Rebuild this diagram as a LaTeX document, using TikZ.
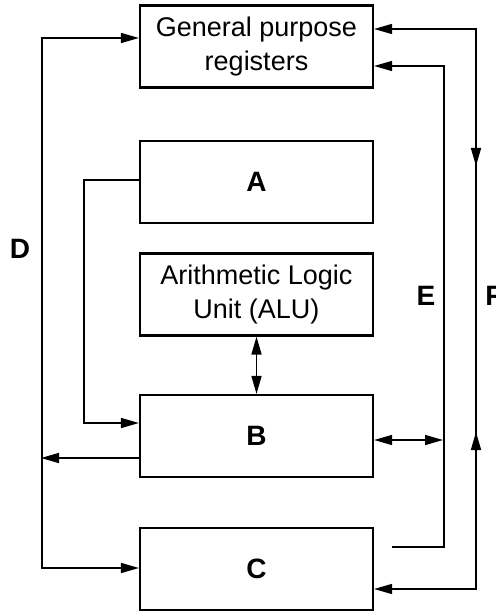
\documentclass[tikz,border=0pt]{standalone}
\usepackage{fontspec}
\setmainfont{Liberation Sans}
\usetikzlibrary{arrows.meta}
\tikzset{
    unit/.style={draw,line width=2.2pt,minimum width=233pt,minimum height=82pt,align=center,
        inner sep=0pt,font=\fontsize{27}{34}\selectfont},
    tag/.style={font=\fontsize{28}{30}\selectfont\bfseries},
    wire/.style={line width=1.6pt,-{Triangle[length=18pt,width=10pt]}},
    wires/.style={line width=1.6pt,{Triangle[length=18pt,width=10pt]}-{Triangle[length=18pt,width=10pt]}},
}
\begin{document}
\begin{tikzpicture}[x=1pt,y=-1pt]
    \useasboundingbox (0,0) rectangle (495,612);
    \node[unit] (gpr) at (256.5,46.5) {General purpose\\registers};
    \node[unit] (a) at (256.5,182) {\bfseries\fontsize{28}{30}\selectfont A};
    \node[unit] (alu) at (256.5,294.5) {Arithmetic Logic\\Unit (ALU)};
    \node[unit] (b) at (256.5,436) {\bfseries\fontsize{28}{30}\selectfont B};
    \node[unit] (c) at (256.5,569) {\bfseries\fontsize{28}{30}\selectfont C};
    \coordinate (d1) at (42,38);
    \coordinate (d2) at (42,568);
    \coordinate (d3) at (41,458);
    \coordinate (a1) at (84,180);
    \coordinate (a2) at (84,423);
    \coordinate (e1) at (444,66);
    \coordinate (e2) at (444,547);
    \coordinate (e3) at (392,547);
    \coordinate (e4) at (443,440);
    \coordinate (f1) at (476,29);
    \coordinate (f2) at (476,589);
    \coordinate (f3) at (476,166);
    \coordinate (f4) at (476,432);
    \draw[wires] (gpr.west |- d1) -- (d1) -- (d2) -- (c.west |- d2);
    \draw[wire] (b.west |- d3) -- (d3);
    \draw[wire] (a.west |- a1) -- (a1) -- (a2) -- (b.west |- a2);
    \draw[wires] (alu.south) -- (b.north);
    \draw[wires] (b.east |- e4) -- (e4);
    \draw[wire] (e3) -- (e2) -- (e1) -- (gpr.east |- e1);
    \draw[wires] (gpr.east |- f1) -- (f1) -- (f2) -- (c.east |- f2);
    \draw[wire] (f1) -- (f3);
    \draw[wire] (f2) -- (f4);
    \node[tag] (dtag) at (20,249) {D};
    \node[tag] (etag) at (426,296) {E};
    \node[tag] (ftag) at (494,296) {F};
\end{tikzpicture}
\end{document}
